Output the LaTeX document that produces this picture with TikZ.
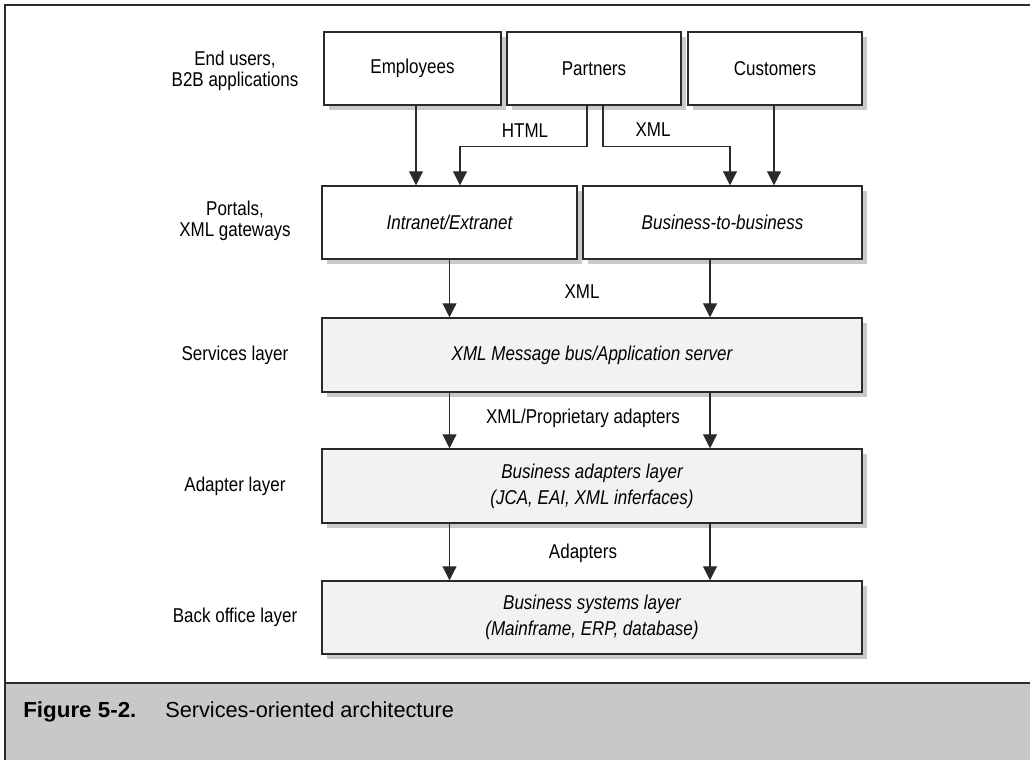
\documentclass[tikz,border=0pt]{standalone}
\usepackage{fontspec}
\setmainfont{Liberation Sans}[FakeStretch=0.85]
\newfontfamily\capfont{Liberation Sans}
\newfontfamily\capbold{Liberation Sans Bold}[FakeStretch=1.03]
\usetikzlibrary{arrows.meta,shadows}
\definecolor{linegray}{HTML}{2A2A2A}
\definecolor{shadowgray}{HTML}{C9CACC}
\definecolor{boxgray}{HTML}{F1F2F3}
\definecolor{bandgray}{HTML}{C7C8CA}
\tikzset{
  box/.style={draw=linegray, line width=1.1pt, fill=white, inner sep=0pt,
    font=\fontsize{15}{19.5}\selectfont, align=center,
    drop shadow={shadow xshift=4pt, shadow yshift=-4pt, fill=shadowgray, opacity=1}},
  graybox/.style={box, fill=boxgray, font=\fontsize{15}{19.5}\selectfont\itshape},
  itbox/.style={box, font=\fontsize{15}{19.5}\selectfont\itshape},
  side/.style={font=\fontsize{15}{15.75}\selectfont, align=center, inner sep=0pt},
  lbl/.style={font=\fontsize{15}{16}\selectfont, inner sep=0pt},
  arr/.style={draw=linegray, line width=0.8pt, -{Triangle[length=10.5pt,width=10.5pt]}}
}
\begin{document}
\begin{tikzpicture}[x=0.75pt,y=-0.75pt]
\useasboundingbox (0,0) rectangle (1030,760);
% frame and caption band
\fill[bandgray] (5,683) rectangle (1030,760);
\draw[linegray, line width=1.2pt] (1030,5) -- (5,5) -- (5,760);
\draw[linegray, line width=1.4pt] (5,683) -- (1030,683);
\node[anchor=base west, inner sep=0pt, font=\capbold\fontsize{16.3}{18}\selectfont] (fig) at (23,717) {Figure 5-2.};
\node[anchor=base west, inner sep=0pt, font=\capfont\fontsize{16.3}{18}\selectfont] (cap) at (165,717) {Services-oriented architecture};

% top row
\node[box, minimum width={177*0.75pt}, minimum height={73*0.75pt}] (emp) at (412.5,68.5) {Employees};
\node[box, minimum width={174*0.75pt}, minimum height={73*0.75pt}] (par) at (594,68.5) {Partners};
\node[box, minimum width={174*0.75pt}, minimum height={73*0.75pt}] (cus) at (775,68.5) {Customers};
% portals
\node[itbox, minimum width={255*0.75pt}, minimum height={73*0.75pt}] (intra) at (449.5,222.5) {Intranet/Extranet};
\node[itbox, minimum width={279*0.75pt}, minimum height={73*0.75pt}] (b2b) at (722.5,222.5) {Business-to-business};
% layers
\node[graybox, minimum width={540*0.75pt}, minimum height={74*0.75pt}] (srv) at (592,355) {XML Message bus/Application server};
\node[graybox, minimum width={540*0.75pt}, minimum height={74*0.75pt}] (adp) at (592,486) {Business adapters layer\\(JCA, EAI, XML inferfaces)};
\node[graybox, minimum width={540*0.75pt}, minimum height={73*0.75pt}] (bo) at (592,617.5) {Business systems layer\\(Mainframe, ERP, database)};

% side labels
\node[side] (l1) at (235,71) {End users,\\B2B applications};
\node[side] (l2) at (235,221) {Portals,\\XML gateways};
\node[side] (l3) at (235,355) {Services layer};
\node[side] (l4) at (235,486) {Adapter layer};
\node[side] (l5) at (235,617) {Back office layer};

% connectors
\coordinate (r) at (710,0);
\draw[arr] ([shift={(3.5,0)}]emp.south) -- ([shift={(3.5,0)}]emp.south |- intra.north);
\draw[arr] ([shift={(-7,0)}]par.south) -- ++(0,41) -| ([shift={(10.5,0)}]intra.north);
\draw[arr] ([shift={(9,0)}]par.south) -- ++(0,41) -| ([shift={(7.5,0)}]b2b.north);
\draw[arr] ([shift={(-1,0)}]cus.south) -- ([shift={(-1,0)}]cus.south |- b2b.north);
\draw[arr] (intra.south) -- (intra.south |- srv.north);
\draw[arr] (b2b.south -| r) -- (srv.north -| r);
\draw[arr] (srv.south -| intra.south) -- (adp.north -| intra.south);
\draw[arr] (srv.south -| r) -- (adp.north -| r);
\draw[arr] (adp.south -| intra.south) -- (bo.north -| intra.south);
\draw[arr] (adp.south -| r) -- (bo.north -| r);

% connector labels
\node[lbl] (html) at (525,131) {HTML};
\node[lbl] (xml1) at (653,130) {XML};
\node[lbl] (xml2) at (582,292) {XML};
\node[lbl] (xml3) at (583,418) {XML/Proprietary adapters};
\node[lbl] (ad) at (583,553) {Adapters};
\end{tikzpicture}
\end{document}
